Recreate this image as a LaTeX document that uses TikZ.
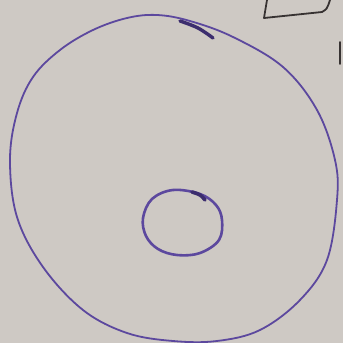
\documentclass[tikz,border=0pt]{standalone}
\begin{document}
\begin{tikzpicture}[x=1pt,y=-1pt,
  ink/.style={draw=penpurple,line cap=round,line join=round},
  pencil/.style={draw=pencilgray,line width=1.8pt,line cap=round,line join=round}]
\definecolor{paper}{RGB}{206,201,196}
\definecolor{penpurple}{RGB}{92,72,158}
\definecolor{darkpurple}{RGB}{60,45,110}
\definecolor{pencilgray}{RGB}{55,50,50}
\fill[paper] (0,0) rectangle (343,343);
\useasboundingbox (0,0) rectangle (343,343);
% outer circle
\draw[ink,line width=1.8pt] plot[smooth cycle,tension=0.6] coordinates {
 (157,15) (190,21) (233,37) (283,67) (317,110) (335,160) (337,200)
 (327,260) (300,300) (260,330) (217,341) (173,341) (127,333) (83,310)
 (43,267) (17,217) (10,160) (17,113) (33,77) (60,50) (93,30) (127,18)};
% overlapping start of the stroke
\draw[ink,draw=darkpurple,line width=3.4pt] plot[smooth,tension=0.6] coordinates {(180,21) (198,28) (213,38)};
% inner circle
\draw[ink,line width=2.6pt] plot[smooth cycle,tension=0.6] coordinates {
 (173,190) (200,194) (216,205) (222,220) (219,240) (200,253) (177,255)
 (158,249) (146,236) (143,218) (152,199)};
\draw[ink,draw=darkpurple,line width=3.6pt] plot[smooth,tension=0.6] coordinates {(192,192) (200,195) (205,200)};
% marks at top right
\draw[pencil] (267,0) -- (264,18) -- (322,12) .. controls (327,9) .. (330,0);
\draw[pencil] (340,42) -- (340,64);
\end{tikzpicture}
\end{document}
